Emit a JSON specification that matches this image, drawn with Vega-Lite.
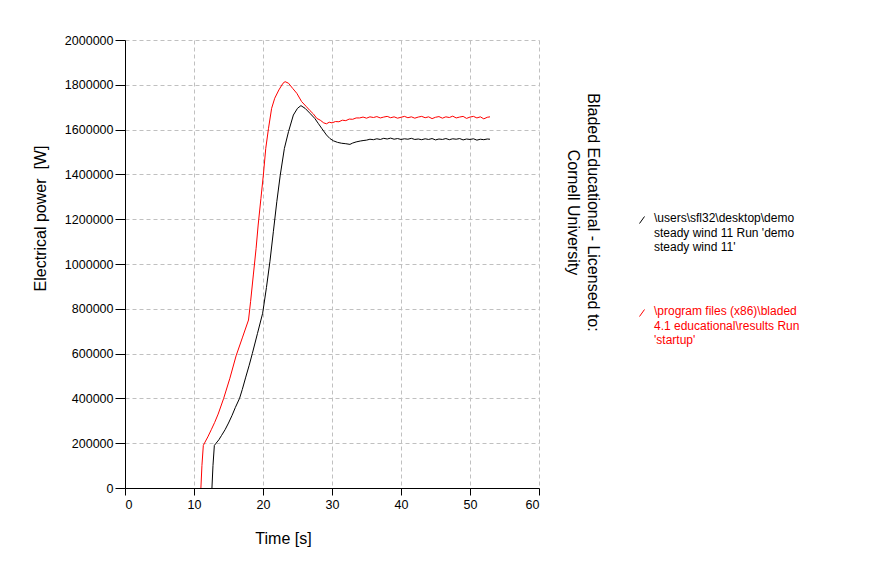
{
  "$schema": "https://vega.github.io/schema/vega-lite/v6.json",
  "width": 414,
  "height": 448,
  "autosize": "none",
  "padding": {"left": 125, "top": 40, "right": 339, "bottom": 78},
  "background": "white",
  "datasets": {
    "power": [
      {"t": 12.6, "p": 0, "run": "demo"},
      {"t": 12.75, "p": 100000, "run": "demo"},
      {"t": 12.95, "p": 190000, "run": "demo"},
      {"t": 13.2, "p": 200000, "run": "demo"},
      {"t": 13.6, "p": 215000, "run": "demo"},
      {"t": 14.0, "p": 235000, "run": "demo"},
      {"t": 14.5, "p": 260000, "run": "demo"},
      {"t": 15.0, "p": 290000, "run": "demo"},
      {"t": 15.5, "p": 323000, "run": "demo"},
      {"t": 16.0, "p": 360000, "run": "demo"},
      {"t": 16.6, "p": 400000, "run": "demo"},
      {"t": 17.0, "p": 440000, "run": "demo"},
      {"t": 17.5, "p": 495000, "run": "demo"},
      {"t": 18.0, "p": 548000, "run": "demo"},
      {"t": 18.45, "p": 600000, "run": "demo"},
      {"t": 19.2, "p": 690000, "run": "demo"},
      {"t": 19.95, "p": 780000, "run": "demo"},
      {"t": 20.5, "p": 895000, "run": "demo"},
      {"t": 21.0, "p": 1010000, "run": "demo"},
      {"t": 21.5, "p": 1144000, "run": "demo"},
      {"t": 22.0, "p": 1278000, "run": "demo"},
      {"t": 22.5, "p": 1397000, "run": "demo"},
      {"t": 23.1, "p": 1516000, "run": "demo"},
      {"t": 23.7, "p": 1591000, "run": "demo"},
      {"t": 24.4, "p": 1665000, "run": "demo"},
      {"t": 25.0, "p": 1695000, "run": "demo"},
      {"t": 25.5, "p": 1707000, "run": "demo"},
      {"t": 26.1, "p": 1695000, "run": "demo"},
      {"t": 26.8, "p": 1673000, "run": "demo"},
      {"t": 27.5, "p": 1650000, "run": "demo"},
      {"t": 28.0, "p": 1628000, "run": "demo"},
      {"t": 28.5, "p": 1606000, "run": "demo"},
      {"t": 29.2, "p": 1576000, "run": "demo"},
      {"t": 29.7, "p": 1560000, "run": "demo"},
      {"t": 30.2, "p": 1550000, "run": "demo"},
      {"t": 30.8, "p": 1543000, "run": "demo"},
      {"t": 31.4, "p": 1539000, "run": "demo"},
      {"t": 32.0, "p": 1537000, "run": "demo"},
      {"t": 32.6, "p": 1534000, "run": "demo"},
      {"t": 33.0, "p": 1540000, "run": "demo"},
      {"t": 33.5, "p": 1545000, "run": "demo"},
      {"t": 34.1, "p": 1549000, "run": "demo"},
      {"t": 34.5, "p": 1551000, "run": "demo"},
      {"t": 35.0, "p": 1553000, "run": "demo"},
      {"t": 35.5, "p": 1557000, "run": "demo"},
      {"t": 36.0, "p": 1555000, "run": "demo"},
      {"t": 36.5, "p": 1559000, "run": "demo"},
      {"t": 37.0, "p": 1556000, "run": "demo"},
      {"t": 37.5, "p": 1561000, "run": "demo"},
      {"t": 38.0, "p": 1558000, "run": "demo"},
      {"t": 38.5, "p": 1562000, "run": "demo"},
      {"t": 39.0, "p": 1557000, "run": "demo"},
      {"t": 39.5, "p": 1560000, "run": "demo"},
      {"t": 40.0, "p": 1556000, "run": "demo"},
      {"t": 40.5, "p": 1559000, "run": "demo"},
      {"t": 41.0, "p": 1557000, "run": "demo"},
      {"t": 41.5, "p": 1561000, "run": "demo"},
      {"t": 42.0, "p": 1556000, "run": "demo"},
      {"t": 42.5, "p": 1558000, "run": "demo"},
      {"t": 43.0, "p": 1555000, "run": "demo"},
      {"t": 43.5, "p": 1559000, "run": "demo"},
      {"t": 44.0, "p": 1556000, "run": "demo"},
      {"t": 44.5, "p": 1560000, "run": "demo"},
      {"t": 45.0, "p": 1554000, "run": "demo"},
      {"t": 45.5, "p": 1558000, "run": "demo"},
      {"t": 46.0, "p": 1556000, "run": "demo"},
      {"t": 46.5, "p": 1560000, "run": "demo"},
      {"t": 47.0, "p": 1555000, "run": "demo"},
      {"t": 47.5, "p": 1559000, "run": "demo"},
      {"t": 48.0, "p": 1557000, "run": "demo"},
      {"t": 48.5, "p": 1560000, "run": "demo"},
      {"t": 49.0, "p": 1554000, "run": "demo"},
      {"t": 49.5, "p": 1558000, "run": "demo"},
      {"t": 50.0, "p": 1556000, "run": "demo"},
      {"t": 50.5, "p": 1559000, "run": "demo"},
      {"t": 51.0, "p": 1553000, "run": "demo"},
      {"t": 51.5, "p": 1557000, "run": "demo"},
      {"t": 52.0, "p": 1555000, "run": "demo"},
      {"t": 52.5, "p": 1558000, "run": "demo"},
      {"t": 52.9, "p": 1557000, "run": "demo"},
      {"t": 11.0, "p": 0, "run": "startup"},
      {"t": 11.15, "p": 100000, "run": "startup"},
      {"t": 11.35, "p": 190000, "run": "startup"},
      {"t": 11.6, "p": 205000, "run": "startup"},
      {"t": 12.0, "p": 228000, "run": "startup"},
      {"t": 12.5, "p": 260000, "run": "startup"},
      {"t": 13.0, "p": 293000, "run": "startup"},
      {"t": 13.5, "p": 330000, "run": "startup"},
      {"t": 14.3, "p": 400000, "run": "startup"},
      {"t": 15.2, "p": 490000, "run": "startup"},
      {"t": 16.1, "p": 590000, "run": "startup"},
      {"t": 17.0, "p": 670000, "run": "startup"},
      {"t": 17.9, "p": 750000, "run": "startup"},
      {"t": 18.2, "p": 832000, "run": "startup"},
      {"t": 18.6, "p": 951000, "run": "startup"},
      {"t": 19.0, "p": 1070000, "run": "startup"},
      {"t": 19.3, "p": 1174000, "run": "startup"},
      {"t": 19.7, "p": 1293000, "run": "startup"},
      {"t": 20.05, "p": 1397000, "run": "startup"},
      {"t": 20.4, "p": 1516000, "run": "startup"},
      {"t": 20.8, "p": 1606000, "run": "startup"},
      {"t": 21.25, "p": 1695000, "run": "startup"},
      {"t": 21.7, "p": 1740000, "run": "startup"},
      {"t": 22.3, "p": 1777000, "run": "startup"},
      {"t": 22.9, "p": 1807000, "run": "startup"},
      {"t": 23.2, "p": 1814000, "run": "startup"},
      {"t": 23.7, "p": 1807000, "run": "startup"},
      {"t": 24.3, "p": 1784000, "run": "startup"},
      {"t": 24.9, "p": 1762000, "run": "startup"},
      {"t": 25.6, "p": 1725000, "run": "startup"},
      {"t": 26.3, "p": 1702000, "run": "startup"},
      {"t": 26.8, "p": 1685000, "run": "startup"},
      {"t": 27.3, "p": 1670000, "run": "startup"},
      {"t": 27.8, "p": 1650000, "run": "startup"},
      {"t": 28.3, "p": 1642000, "run": "startup"},
      {"t": 28.8, "p": 1630000, "run": "startup"},
      {"t": 29.2, "p": 1626000, "run": "startup"},
      {"t": 29.6, "p": 1633000, "run": "startup"},
      {"t": 30.0, "p": 1630000, "run": "startup"},
      {"t": 30.5, "p": 1636000, "run": "startup"},
      {"t": 31.0, "p": 1635000, "run": "startup"},
      {"t": 31.5, "p": 1642000, "run": "startup"},
      {"t": 32.0, "p": 1640000, "run": "startup"},
      {"t": 32.5, "p": 1647000, "run": "startup"},
      {"t": 33.0, "p": 1646000, "run": "startup"},
      {"t": 33.5, "p": 1652000, "run": "startup"},
      {"t": 34.0, "p": 1652000, "run": "startup"},
      {"t": 34.5, "p": 1656000, "run": "startup"},
      {"t": 35.0, "p": 1651000, "run": "startup"},
      {"t": 35.5, "p": 1657000, "run": "startup"},
      {"t": 36.0, "p": 1654000, "run": "startup"},
      {"t": 36.5, "p": 1658000, "run": "startup"},
      {"t": 37.0, "p": 1652000, "run": "startup"},
      {"t": 37.5, "p": 1656000, "run": "startup"},
      {"t": 38.0, "p": 1659000, "run": "startup"},
      {"t": 38.5, "p": 1653000, "run": "startup"},
      {"t": 39.0, "p": 1657000, "run": "startup"},
      {"t": 39.5, "p": 1651000, "run": "startup"},
      {"t": 40.0, "p": 1655000, "run": "startup"},
      {"t": 40.5, "p": 1659000, "run": "startup"},
      {"t": 41.0, "p": 1653000, "run": "startup"},
      {"t": 41.5, "p": 1657000, "run": "startup"},
      {"t": 42.0, "p": 1651000, "run": "startup"},
      {"t": 42.5, "p": 1656000, "run": "startup"},
      {"t": 43.0, "p": 1659000, "run": "startup"},
      {"t": 43.5, "p": 1653000, "run": "startup"},
      {"t": 44.0, "p": 1657000, "run": "startup"},
      {"t": 44.5, "p": 1649000, "run": "startup"},
      {"t": 45.0, "p": 1655000, "run": "startup"},
      {"t": 45.5, "p": 1658000, "run": "startup"},
      {"t": 46.0, "p": 1651000, "run": "startup"},
      {"t": 46.5, "p": 1657000, "run": "startup"},
      {"t": 47.0, "p": 1654000, "run": "startup"},
      {"t": 47.5, "p": 1660000, "run": "startup"},
      {"t": 48.0, "p": 1652000, "run": "startup"},
      {"t": 48.5, "p": 1656000, "run": "startup"},
      {"t": 49.0, "p": 1659000, "run": "startup"},
      {"t": 49.5, "p": 1650000, "run": "startup"},
      {"t": 50.0, "p": 1656000, "run": "startup"},
      {"t": 50.5, "p": 1659000, "run": "startup"},
      {"t": 51.0, "p": 1652000, "run": "startup"},
      {"t": 51.5, "p": 1657000, "run": "startup"},
      {"t": 52.0, "p": 1648000, "run": "startup"},
      {"t": 52.5, "p": 1655000, "run": "startup"},
      {"t": 52.9, "p": 1657000, "run": "startup"}
    ]
  },
  "data": {"name": "power"},
  "encoding": {
    "x": {
      "field": "t",
      "type": "quantitative",
      "scale": {"domain": [0, 60], "nice": false},
      "axis": {
        "title": "Time [s]",
        "values": [0, 10, 20, 30, 40, 50, 60],
        "titleX": 158,
        "titleY": 50,
        "titleBaseline": "middle",
        "titleAlign": "center",
        "tickSize": 7,
        "labelPadding": 3,
        "encode": {"ticks": {"update": {"y": {"value": -10}, "y2": {"value": 7}}}}
      }
    }
  },
  "layer": [
    {
      "mark": {"type": "line", "strokeWidth": 1, "clip": true},
      "encoding": {
        "y": {
          "field": "p",
          "type": "quantitative",
          "scale": {"domain": [0, 2000000], "nice": false},
          "axis": {
            "title": "Electrical power\u00a0\u00a0[W]",
            "values": [0, 200000, 400000, 600000, 800000, 1000000, 1200000, 1400000, 1600000, 1800000, 2000000],
            "format": "d",
            "titleX": -85,
            "titleY": 178,
            "titleBaseline": "middle",
            "titleAlign": "center",
            "tickSize": 10,
            "labelPadding": 2,
            "encode": {"ticks": {"update": {"x": {"value": 8}, "x2": {"value": -10}}}}
          }
        },
        "color": {
          "field": "run",
          "type": "nominal",
          "scale": {"domain": ["demo", "startup"], "range": ["#000000", "#ff0000"]},
          "legend": {
            "title": null,
            "orient": "none",
            "legendX": 511,
            "legendY": 174,
            "padding": 0,
            "rowPadding": 51,
            "symbolType": "M-0.5,0.7L0.5,-0.7",
            "symbolSize": 100,
            "symbolStrokeWidth": 1,
            "labelFontSize": 12,
            "labelLimit": 400,
            "labelOffset": 6,
            "labelBaseline": "top",
            "labelExpr": "datum.value == 'demo' ? [\"\\\\users\\\\sfl32\\\\desktop\\\\demo\", \"steady wind 11 Run 'demo\", \"steady wind 11'\"] : [\"\\\\program files (x86)\\\\bladed\", \"4.1 educational\\\\results Run\", \"'startup'\"]",
            "encode": {
              "labels": {"update": {"fill": {"signal": "datum.value == 'startup' ? '#ff0000' : '#000000'"}, "dy": {"value": -7}, "lineHeight": {"value": 14.7}}}
            }
          }
        }
      }
    },
    {
      "mark": {"type": "line", "opacity": 0},
      "encoding": {
        "y": {
          "field": "p",
          "type": "quantitative",
          "scale": {"domain": [0, 2000000], "nice": false},
          "axis": {
            "orient": "right",
            "title": ["Bladed Educational - Licensed to:", "Cornell University"],
            "titleAngle": 90,
            "titleFontSize": 16,
            "titleLineHeight": 20,
            "titleX": 53,
            "titleY": 172,
            "titleBaseline": "middle",
            "titleAlign": "center",
            "labels": false,
            "ticks": false,
            "domain": false,
            "grid": false
          }
        }
      }
    }
  ],
  "resolve": {"scale": {"y": "independent"}},
  "config": {
    "font": "Liberation Sans",
    "view": {"stroke": null},
    "axis": {
      "domainColor": "#000000",
      "tickColor": "#000000",
      "labelColor": "#000000",
      "titleColor": "#000000",
      "labelFontSize": 12.5,
      "titleFontSize": 16,
      "titleFontWeight": "normal",
      "gridColor": "#c0c0c0",
      "gridDash": [4, 3],
      "gridWidth": 1,
      "grid": true
    }
  }
}
